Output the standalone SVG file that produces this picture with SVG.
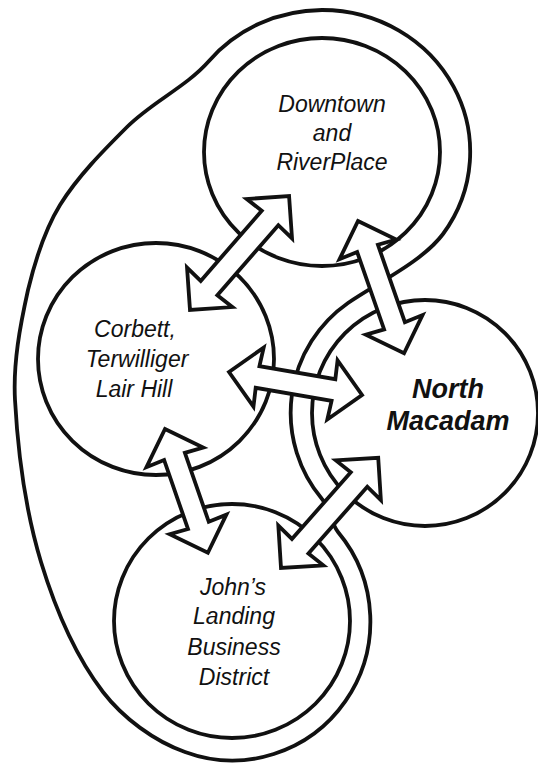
<svg xmlns="http://www.w3.org/2000/svg" width="538" height="766" viewBox="0 0 538 766">
  <style>
    .line { fill: none; stroke: #111; stroke-width: 3.8; stroke-linejoin: round; }
    .arrow { fill: #fff; stroke: #111; stroke-width: 3.8; stroke-linejoin: miter; }
    .lbl { font-family: "Liberation Sans", Arial, Helvetica, sans-serif; font-style: italic; font-size: 23px; fill: #111; text-anchor: middle; }
    .bold { font-weight: bold; font-size: 27px; }
  </style>
  <rect width="538" height="766" fill="#fff"/>

  <g id="outer-loop">
    <path class="line" d="M 209,61 A 148 142 0 0 1 322,10 A 148 142 0 0 1 443,234 C 422,262 377,283 348,303 A 134 134 0 0 0 322,499 C 330,508 330,522 338,532 A 138 139 0 0 1 185,752 C 154,741 123,718 103,692 C 74,654 55,608 41,562 C 25,509 18,455 15,400 C 13,363 20,326 28,290 C 35,261 44,231 60,205 C 78,176 103,151 127,127 C 152,102 186,87 209,61 Z"/>
  </g>

  <g id="downtown">
    <ellipse class="line" cx="322" cy="152" rx="118" ry="114"/>
    <text class="lbl" x="332" y="112">Downtown</text>
    <text class="lbl" x="332" y="141">and</text>
    <text class="lbl" x="332" y="170">RiverPlace</text>
  </g>

  <g id="corbett">
    <ellipse class="line" cx="156" cy="359" rx="118" ry="116"/>
    <text class="lbl" x="135" y="337">Corbett,</text>
    <text class="lbl" x="137" y="367">Terwilliger</text>
    <text class="lbl" x="134" y="397">Lair Hill</text>
  </g>

  <g id="north-macadam">
    <circle class="line" cx="425" cy="413" r="113"/>
    <text class="lbl bold" x="448" y="398">North</text>
    <text class="lbl bold" x="448" y="430">Macadam</text>
  </g>

  <g id="johns-landing">
    <ellipse class="line" cx="232" cy="621" rx="118" ry="117"/>
    <text class="lbl" x="233" y="595">John’s</text>
    <text class="lbl" x="234" y="624">Landing</text>
    <text class="lbl" x="234" y="655">Business</text>
    <text class="lbl" x="234" y="685">District</text>
  </g>

  <g id="connectors">
    <path id="a-downtown-corbett" class="arrow" transform="translate(190,310) rotate(-49)" d="M0,0 L30,-30 L29,-11 L122,-11 L121,-30 L151,0 L121,30 L122,11 L29,11 L30,30 Z"/>
    <path id="a-downtown-nmacadam" class="arrow" transform="translate(358,221) rotate(70.8)" d="M0,0 L30,-30 L29,-11 L111,-11 L110,-30 L140,0 L110,30 L111,11 L29,11 L30,30 Z"/>
    <path id="a-corbett-nmacadam" class="arrow" transform="translate(229,372) rotate(9.8)" d="M0,0 L30,-30 L29,-11 L106,-11 L105,-30 L135,0 L105,30 L106,11 L29,11 L30,30 Z"/>
    <path id="a-corbett-johns" class="arrow" transform="translate(165,429) rotate(70.9)" d="M0,0 L30,-30 L29,-11 L102,-11 L101,-30 L131,0 L101,30 L102,11 L29,11 L30,30 Z"/>
    <path id="a-johns-nmacadam" class="arrow" transform="translate(281,568) rotate(-48.6)" d="M0,0 L30,-30 L29,-11 L118,-11 L117,-30 L147,0 L117,30 L118,11 L29,11 L30,30 Z"/>
  </g>
</svg>
